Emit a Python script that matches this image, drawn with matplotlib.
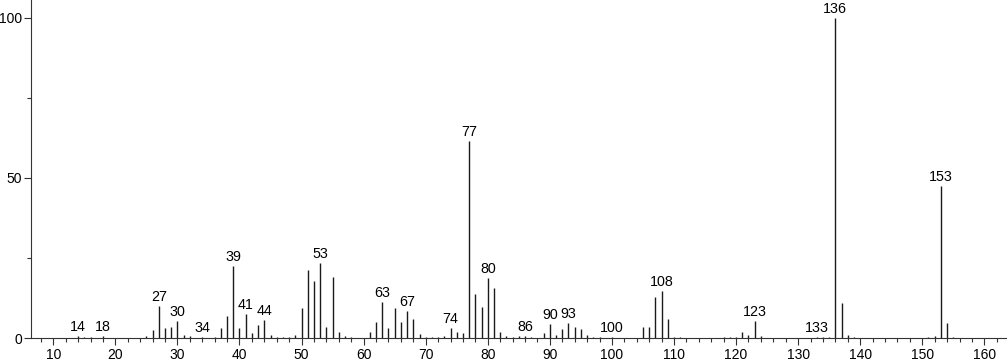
import matplotlib
matplotlib.use("Agg")
import matplotlib.pyplot as plt
from matplotlib.ticker import MultipleLocator

mz = [14, 15, 16, 18, 25, 26, 27, 28, 29, 30, 31, 32, 34, 36, 37, 38, 39, 40, 41, 42, 43, 44,
      45, 46, 47, 48, 49, 50, 51, 52, 53, 54, 55, 56, 57, 58, 61, 62, 63, 64, 65, 66, 67, 68,
      69, 70, 71, 72, 73, 74, 75, 76, 77, 78, 79, 80, 81, 82, 83, 84, 85, 86, 87, 89, 90, 91,
      92, 93, 94, 95, 96, 97, 98, 100, 105, 106, 107, 108, 109, 110, 111, 118, 119, 120, 121,
      122, 123, 124, 133, 134, 135, 136, 137, 138, 139, 151, 152, 153, 154, 155]
intensity = [0.5, 0.3, 0.3, 0.5, 0.5, 2.5, 10.0, 3.0, 3.4, 5.3, 1.0, 0.5, 0.3, 0.3, 3.0, 7.0, 22.5,
             3.1, 7.5, 1.5, 4.0, 5.6, 0.8, 0.4, 0.3, 0.3, 1.0, 9.4, 21.3, 17.8, 23.3, 3.3, 19.0,
             2.0, 0.5, 0.3, 2.0, 5.1, 11.3, 3.1, 9.4, 5.1, 8.5, 5.8, 1.4, 0.3, 0.3, 0.4, 0.7,
             3.0, 2.0, 1.7, 61.5, 13.8, 9.8, 18.6, 15.5, 2.0, 0.5, 0.3, 0.5, 0.5, 0.3, 1.6, 4.4,
             1.0, 2.7, 4.8, 3.5, 2.7, 0.8, 0.3, 0.3, 0.2, 3.5, 3.3, 12.7, 14.7, 5.8, 0.3, 0.3,
             0.3, 0.3, 0.3, 1.8, 0.9, 5.4, 0.7, 0.3, 0.3, 0.4, 100.0, 11.0, 1.0, 0.3, 0.3, 0.5,
             47.5, 4.7, 0.3]
labeled = [14, 18, 27, 30, 34, 39, 41, 44, 53, 63, 67, 74, 77, 80, 86, 90, 93, 100, 108, 123,
           133, 136, 153]

plt.rcParams['font.family'] = ['Liberation Sans', 'DejaVu Sans']

fig = plt.figure(figsize=(10.07, 3.62), dpi=100)
ax = fig.add_axes([31 / 1007, 24 / 362, 976 / 1007, 338 / 362])

ax.vlines(mz, 0, intensity, colors='#1a1a1a', linewidth=1.0)

lookup = dict(zip(mz, intensity))
for m in labeled:
    ax.annotate(str(m), (m, lookup[m]), xytext=(0, 1.5), textcoords='offset points',
                ha='center', va='bottom', fontsize=10.3, color='black')

ax.set_xlim(6.41, 163.65)
ax.set_ylim(0, 105.6)
ax.xaxis.set_major_locator(MultipleLocator(10))
ax.xaxis.set_minor_locator(MultipleLocator(2))
ax.yaxis.set_major_locator(MultipleLocator(50))
ax.yaxis.set_minor_locator(MultipleLocator(25))
ax.tick_params(axis='both', which='major', length=5, width=0.8, labelsize=10, direction='out',
               color='#333333')
ax.tick_params(axis='x', which='major', pad=2)
ax.tick_params(axis='y', which='major', pad=1.2)
ax.tick_params(axis='both', which='minor', length=3, width=0.8, direction='out', color='#333333')
for s in ['top', 'right']:
    ax.spines[s].set_visible(False)
for s in ['left', 'bottom']:
    ax.spines[s].set_color('#333333')
    ax.spines[s].set_linewidth(0.8)

fig.savefig('out.png', dpi=100)
